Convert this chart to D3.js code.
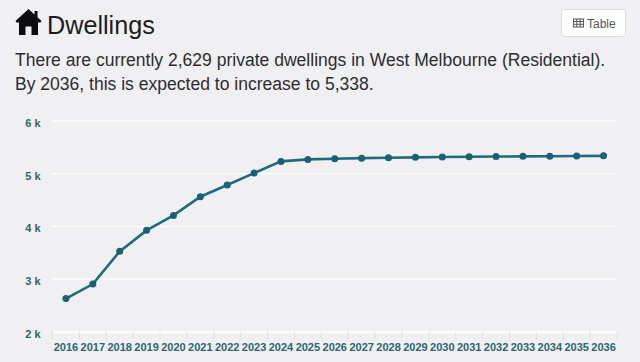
<!DOCTYPE html>
<html>
<head>
<meta charset="utf-8">
<script src="https://cdn.jsdelivr.net/npm/d3@7"></script>
<style>
  html, body { margin: 0; padding: 0; background: #f0f0f2; overflow: hidden; }
  text { font-family: "Liberation Sans", Arial, sans-serif; }
</style>
</head>
<body>
<div id="chart-area"></div>
<script>
var years = ["2016", "2017", "2018", "2019", "2020", "2021", "2022", "2023", "2024", "2025", "2026",
  "2027", "2028", "2029", "2030", "2031", "2032", "2033", "2034", "2035", "2036"];
var dwellings = [2629, 2905, 3525, 3924, 4208, 4562, 4784, 5011, 5233, 5271, 5282,
  5295, 5303, 5310, 5316, 5322, 5325, 5329, 5332, 5335, 5338];
var yTicks = [2000, 3000, 4000, 5000, 6000];
var introLines = [
  "There are currently 2,629 private dwellings in West Melbourne (Residential).",
  "By 2036, this is expected to increase to 5,338."
];

var width = 640;
var height = 362;
var margin = { top: 121, right: 23, bottom: 30.3, left: 52.5 };
var charWidth = width - margin.left - margin.right;
var charHeight = height - margin.top - margin.bottom;

var svg = d3.select("#chart-area")
  .append("svg")
  .attr("width", width)
  .attr("height", height)
  .style("display", "block");

// header
svg.append("path")
  .attr("transform", "translate(15.5, 9)")
  .attr("fill", "#0c0c10")
  .attr("d", "M13 0 L19 5.5 V2 H22 V8.3 L26 12 L25 13.6 H22.5 V26 H16 V17.5 H10 V26 H3.5 V13.6 H1 L0 12 Z");

svg.append("text")
  .attr("x", 47)
  .attr("y", 33.5)
  .attr("font-size", "25.2px")
  .attr("fill", "#1c1c20")
  .text("Dwellings");

svg.selectAll(".intro")
  .data(introLines).enter()
  .append("text")
  .attr("class", "intro")
  .attr("x", 15)
  .attr("y", (d, i) => 66 + i * 24)
  .attr("font-size", "17.55px")
  .attr("fill", "#2c2c30")
  .text(d => d);

// table button
svg.append("rect")
  .attr("x", 561.5)
  .attr("y", 9.5)
  .attr("width", 64)
  .attr("height", 27)
  .attr("rx", 3)
  .attr("fill", "#fff")
  .attr("stroke", "#dcdcdc");

var icon = svg.append("g")
  .attr("transform", "translate(573, 18.5)")
  .attr("fill", "none")
  .attr("stroke", "#555")
  .attr("stroke-width", 1);
icon.append("rect").attr("x", 0.5).attr("y", 0.5).attr("width", 10).attr("height", 8);
icon.append("path").attr("d", "M0.5 3 H10.5 M0.5 5.8 H10.5 M3.8 0.5 V8.5 M7.2 0.5 V8.5");

svg.append("text")
  .attr("x", 587)
  .attr("y", 28)
  .attr("font-size", "12px")
  .attr("fill", "#555")
  .text("Table");

// chart
var g = svg.append("g")
  .attr("transform", "translate(" + margin.left + ", " + margin.top + ")");

var x = d3.scaleBand()
  .domain(years)
  .range([0, charWidth]);

var y = d3.scaleLinear()
  .domain([2000, 6000])
  .range([charHeight, 0]);

var leftAxis = d3.axisLeft(y)
  .tickValues(yTicks)
  .tickSize(0)
  .tickPadding(12)
  .tickFormat(d => d / 1000 + " k");
var yAxis = g.append("g")
  .attr("class", "y axis")
  .call(leftAxis);
yAxis.select(".domain").remove();
yAxis.selectAll("text")
  .attr("y", 2)
  .attr("font-size", "11px")
  .attr("font-weight", "bold")
  .attr("fill", "#2f6470");

g.selectAll(".grid")
  .data(yTicks.filter(d => d > 2000)).enter()
  .append("line")
  .attr("class", "grid")
  .attr("x1", 0)
  .attr("x2", charWidth)
  .attr("y1", d => y(d))
  .attr("y2", d => y(d))
  .attr("stroke", "#fff")
  .attr("stroke-width", 1.3)
  .attr("stroke-dasharray", "7 1");

var bottomAxis = d3.axisBottom(x)
  .tickSize(0)
  .tickPadding(12);
var xAxis = g.append("g")
  .attr("class", "x axis")
  .attr("transform", "translate(0, " + charHeight + ")")
  .call(bottomAxis);
xAxis.select(".domain")
  .attr("stroke", "#fff")
  .attr("stroke-width", 2);
xAxis.selectAll("text")
  .attr("font-size", "11px")
  .attr("font-weight", "bold")
  .attr("fill", "#2f6470");

// band edge ticks
g.selectAll(".edge")
  .data(years.concat("end")).enter()
  .append("line")
  .attr("class", "edge")
  .attr("x1", (d, i) => i * x.step())
  .attr("x2", (d, i) => i * x.step())
  .attr("y1", charHeight)
  .attr("y2", charHeight + 8)
  .attr("stroke", "#e0e0e4");

var line = d3.line()
  .x((d, i) => x(years[i]) + x.bandwidth() / 2)
  .y(d => y(d));

g.append("path")
  .datum(dwellings)
  .attr("fill", "none")
  .attr("stroke", "#1f6b7c")
  .attr("stroke-width", 2.6)
  .attr("d", line);

g.selectAll(".dot")
  .data(dwellings).enter()
  .append("circle")
  .attr("class", "dot")
  .attr("cx", (d, i) => x(years[i]) + x.bandwidth() / 2)
  .attr("cy", d => y(d))
  .attr("r", 3.5)
  .attr("fill", "#1d6072");
</script>
</body>
</html>
